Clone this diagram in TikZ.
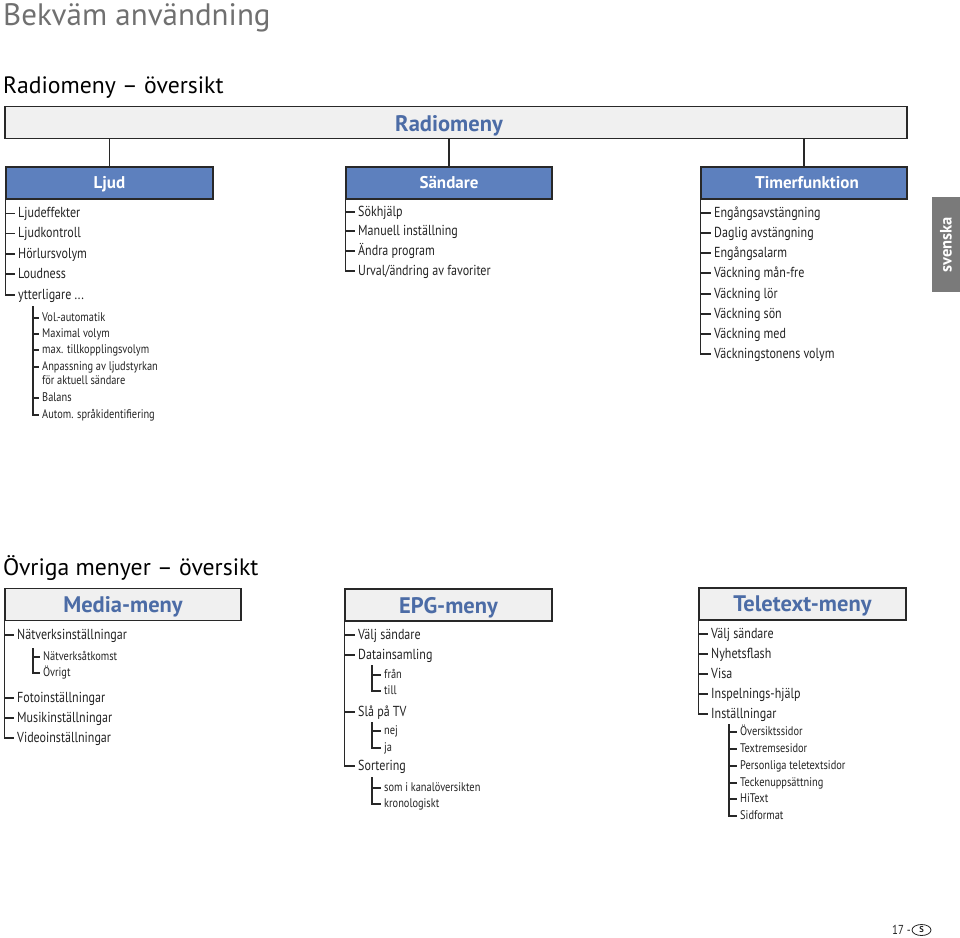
\documentclass[tikz,border=0pt]{standalone}
\usepackage{fontspec}
\usetikzlibrary{shapes.geometric}
\setmainfont{PT Sans}
\newfontfamily\cond[FakeStretch=0.83]{PT Sans}
\definecolor{hblue}{RGB}{93,128,190}
\definecolor{tblue}{RGB}{76,108,166}
\definecolor{lfill}{RGB}{240,240,240}
\definecolor{bord}{RGB}{40,40,40}
\definecolor{txt}{RGB}{35,35,35}
\definecolor{ttl}{RGB}{112,112,112}
\definecolor{tab}{RGB}{122,122,122}
\tikzset{
  item/.style={anchor=west, inner xsep=3pt, inner ysep=0pt, text height=0.82em, text depth=0pt, text=txt, font=\cond\fontsize{14.5}{16}\selectfont},
  subitem/.style={item, text height=0.62em, font=\cond\fontsize{12.5}{14}\selectfont},
  bbox/.style={draw=bord, line width=1.6pt, fill=hblue, minimum height=32pt, inner sep=0pt},
  btext/.style={anchor=base, text=white, font=\bfseries\fontsize{17}{19}\selectfont, inner sep=0pt},
  gbox/.style={draw=bord, line width=1.6pt, fill=lfill, minimum height=32pt, inner sep=0pt},
  gtitle/.style={anchor=base, text=tblue, font=\bfseries\fontsize{22.5}{25}\selectfont, inner sep=0pt},
  tree/.style={draw=bord, line width=1.1pt},
  conn/.style={draw=bord, line width=1.6pt},
  heading/.style={anchor=base west, inner sep=0pt, font=\fontsize{23.7}{26}\selectfont},
}
\begin{document}
\begin{tikzpicture}[x=1pt,y=-1pt]
\useasboundingbox (0,0) rectangle (960,937);
% titles
\node[anchor=base west, inner sep=0pt, text=ttl, font=\fontsize{31}{34}\selectfont] (t0) at (3,25) {Bekväm användning};
\node[heading] (t1) at (3,93) {Radiomeny – översikt};
\node[heading] (t2) at (3,575) {Övriga menyer – översikt};

% Radiomeny
\node[gbox, minimum width=902pt] (radio) at (456,122.5) {};
\node[gtitle] (radiot) at (449,131) {Radiomeny};
\node[bbox, minimum width=207pt] (ljud) at (109.5,183) {};
\node[btext] (ljudt) at (109.5,188.5) {Ljud};
\node[bbox, minimum width=206pt] (send) at (449,183) {};
\node[btext] (sendt) at (449,188.5) {Sändare};
\node[bbox, minimum width=206pt] (timer) at (804,183) {};
\node[btext] (timert) at (807,188.5) {Timerfunktion};
\draw[conn] (radio.south -| ljud.north) -- (ljud.north);
\draw[conn] (radio.south -| send.north) -- (send.north);
\draw[conn] (radio.south -| timer.north) -- (timer.north);

% Ljud items
\node[item] (l1) at (15,213.3) {Ljudeffekter};
\node[item] (l2) at (15,233.3) {Ljudkontroll};
\node[item] (l3) at (15,254) {Hörlursvolym};
\node[item] (l4) at (15,274) {Loudness};
\node[item] (l5) at (15,295) {ytterligare ...};
\draw[tree] (ljud.south west) |- (l5.west);
\foreach \n in {l1,l2,l3,l4} \draw[tree] (ljud.south west |- \n.west) -- (\n.west);
\coordinate (ls) at (33,306);
\node[subitem] (s1) at (39,318) {Vol.-automatik};
\node[subitem] (s2) at (39,334) {Maximal volym};
\node[subitem] (s3) at (39,350) {max. tillkopplingsvolym};
\node[subitem] (s4) at (39,367) {Anpassning av ljudstyrkan};
\node[subitem] (s4b) at (39,381) {för aktuell sändare};
\node[subitem] (s5) at (39,398) {Balans};
\node[subitem] (s6) at (39,415) {Autom. språkidentifiering};
\draw[tree] (ls) |- (s6.west);
\foreach \n in {s1,s2,s3,s4,s5} \draw[tree] (ls |- \n.west) -- (\n.west);

% Sändare items
\node[item] (a1) at (355,212) {Sökhjälp};
\node[item] (a2) at (355,231) {Manuell inställning};
\node[item] (a3) at (355,251) {Ändra program};
\node[item] (a4) at (355,271) {Urval/ändring av favoriter};
\draw[tree] (send.south west) |- (a4.west);
\foreach \n in {a1,a2,a3} \draw[tree] (send.south west |- \n.west) -- (\n.west);

% Timer items
\node[item] (b1) at (711,213) {Engångsavstängning};
\node[item] (b2) at (711,233) {Daglig avstängning};
\node[item] (b3) at (711,253) {Engångsalarm};
\node[item] (b4) at (711,273) {Väckning mån-fre};
\node[item] (b5) at (711,294) {Väckning lör};
\node[item] (b6) at (711,314) {Väckning sön};
\node[item] (b7) at (711,334) {Väckning med};
\node[item] (b8) at (711,354) {Väckningstonens volym};
\draw[tree] (timer.south west) |- (b8.west);
\foreach \n in {b1,b2,b3,b4,b5,b6,b7} \draw[tree] (timer.south west |- \n.west) -- (\n.west);

% svenska tab
\node[fill=tab, minimum width=28pt, minimum height=95pt, inner sep=0pt] (tabbox) at (946,244.5) {};
\node[rotate=90, text=white, font=\bfseries\fontsize{16.5}{18}\selectfont, inner sep=0pt] (tabt) at (tabbox.center) {svenska};

% Media-meny
\node[gbox, minimum width=236pt] (media) at (123,604.5) {};
\node[gtitle] (mediat) at (123,612.5) {Media-meny};
\node[item] (m1) at (14,635) {Nätverksinställningar};
\coordinate (ms) at (33,648);
\node[subitem] (m1a) at (40,657) {Nätverksåtkomst};
\node[subitem] (m1b) at (40,673) {Övrigt};
\draw[tree] (ms) |- (m1b.west);
\draw[tree] (ms |- m1a.west) -- (m1a.west);
\node[item] (m2) at (14,698) {Fotoinställningar};
\node[item] (m3) at (14,718) {Musikinställningar};
\node[item] (m4) at (14,738) {Videoinställningar};
\draw[tree] (media.south west) |- (m4.west);
\foreach \n in {m1,m2,m3} \draw[tree] (media.south west |- \n.west) -- (\n.west);

% EPG-meny
\node[gbox, minimum width=207pt] (epg) at (448.5,605) {};
\node[gtitle] (epgt) at (448.5,613) {EPG-meny};
\node[item] (e1) at (355,635) {Välj sändare};
\node[item] (e2) at (355,655) {Datainsamling};
\coordinate (es1) at (372,665);
\node[subitem] (e2a) at (381,675) {från};
\node[subitem] (e2b) at (381,691) {till};
\draw[tree] (es1) |- (e2b.west);
\draw[tree] (es1 |- e2a.west) -- (e2a.west);
\node[item] (e3) at (355,712) {Slå på TV};
\coordinate (es2) at (372,722);
\node[subitem] (e3a) at (381,731) {nej};
\node[subitem] (e3b) at (381,748) {ja};
\draw[tree] (es2) |- (e3b.west);
\draw[tree] (es2 |- e3a.west) -- (e3a.west);
\node[item] (e4) at (355,766) {Sortering};
\coordinate (es3) at (372,777);
\node[subitem] (e4a) at (381,788) {som i kanalöversikten};
\node[subitem] (e4b) at (381,804) {kronologiskt};
\draw[tree] (es3) |- (e4b.west);
\draw[tree] (es3 |- e4a.west) -- (e4a.west);
\draw[tree] (epg.south west) |- (e4.west);
\foreach \n in {e1,e2,e3} \draw[tree] (epg.south west |- \n.west) -- (\n.west);

% Teletext-meny
\node[gbox, minimum width=207pt] (tt) at (802.5,604) {};
\node[gtitle] (ttt) at (802.5,611.5) {Teletext-meny};
\node[item] (c1) at (708,634) {Välj sändare};
\node[item] (c2) at (708,654) {Nyhetsflash};
\node[item] (c3) at (708,674) {Visa};
\node[item] (c4) at (708,694) {Inspelnings-hjälp};
\node[item] (c5) at (708,714) {Inställningar};
\draw[tree] (tt.south west) |- (c5.west);
\foreach \n in {c1,c2,c3,c4} \draw[tree] (tt.south west |- \n.west) -- (\n.west);
\coordinate (cs) at (729,724);
\node[subitem] (d1) at (737,732) {Översiktssidor};
\node[subitem] (d2) at (737,749) {Textremsesidor};
\node[subitem] (d3) at (737,766) {Personliga teletextsidor};
\node[subitem] (d4) at (737,783) {Teckenuppsättning};
\node[subitem] (d5) at (737,799) {HiText};
\node[subitem] (d6) at (737,816) {Sidformat};
\draw[tree] (cs) |- (d6.west);
\foreach \n in {d1,d2,d3,d4,d5} \draw[tree] (cs |- \n.west) -- (\n.west);

% page number
\node[anchor=west, inner sep=0pt, text=txt, font=\cond\fontsize{13}{15}\selectfont] (pg) at (892,930) {17 -};
\node[draw=txt, line width=0.8pt, ellipse, minimum width=19pt, minimum height=11pt, inner sep=0pt, font=\bfseries\fontsize{8.5}{9}\selectfont, text=txt] (pgs) at (921.5,930) {S};
\end{tikzpicture}
\end{document}
